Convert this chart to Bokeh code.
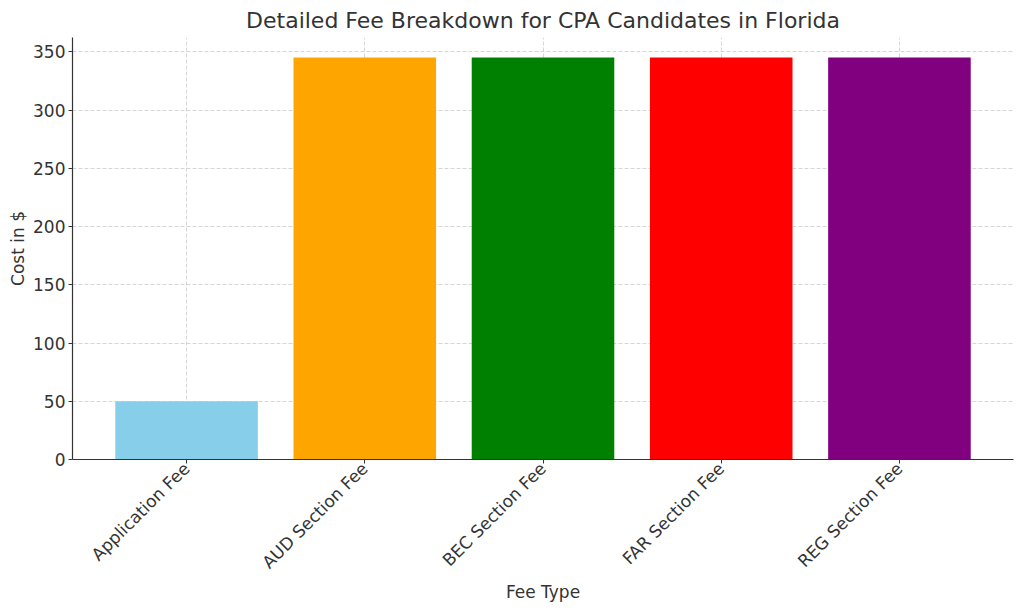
from bokeh.plotting import figure
from bokeh.models import ColumnDataSource, FixedTicker, Range1d
from bokeh.embed import file_html
from bokeh.resources import INLINE
import math

categories = ["Application Fee", "AUD Section Fee", "BEC Section Fee", "FAR Section Fee", "REG Section Fee"]
costs = [50, 345, 345, 345, 345]
colors = ["#87CEEB", "#FFA500", "#008000", "#FF0000", "#800080"]
y_ticks = [0, 50, 100, 150, 200, 250, 300, 350]

positions = list(range(len(categories)))
src = ColumnDataSource(dict(x=positions, top=costs, color=colors, name=categories))

p = figure(width=1020, height=608, output_backend="svg", toolbar_location=None,
           x_range=Range1d(-0.64, 4.64), y_range=Range1d(0, max(costs) * 1.05),
           min_border_left=72, min_border_right=7, min_border_top=37, min_border_bottom=149)
p.vbar(x="x", top="top", width=0.8, bottom=0, color="color", line_color=None, source=src)

p.title.text = "Detailed Fee Breakdown for CPA Candidates in Florida"
p.title.align = "center"
p.title.text_font = "DejaVu Sans"
p.title.text_font_size = "22px"
p.title.text_font_style = "normal"
p.title.text_color = "#333333"
p.title.standoff = 9

p.outline_line_color = None
p.background_fill_color = "white"
p.border_fill_color = "white"

p.xaxis.ticker = FixedTicker(ticks=positions)
p.xaxis.major_label_overrides = {i: c for i, c in zip(positions, categories)}
p.xaxis.major_label_orientation = math.pi / 4
p.yaxis.ticker = FixedTicker(ticks=y_ticks)

for ax in (p.xaxis[0], p.yaxis[0]):
    ax.axis_line_color = "#333333"
    ax.axis_line_width = 1.2
    ax.major_tick_line_color = "#333333"
    ax.major_tick_in = 0
    ax.major_tick_out = 4
    ax.minor_tick_line_color = None
    ax.major_label_text_font = "DejaVu Sans"
    ax.major_label_text_font_size = "17px"
    ax.major_label_text_color = "#333333"
    ax.axis_label_text_font = "DejaVu Sans"
    ax.axis_label_text_font_size = "17px"
    ax.axis_label_text_font_style = "normal"
    ax.axis_label_text_color = "#333333"

p.xaxis.major_label_standoff = 2
p.xaxis.axis_label_standoff = 0
p.yaxis.major_label_standoff = 3
p.yaxis.axis_label_standoff = 2

p.xaxis.axis_label = "Fee Type"
p.yaxis.axis_label = "Cost in $"

for g in (p.xgrid[0], p.ygrid[0]):
    g.grid_line_color = "#cccccc"
    g.grid_line_dash = "4 2"
    g.grid_line_width = 0.8

open("out.html", "w").write(file_html(p, INLINE))
